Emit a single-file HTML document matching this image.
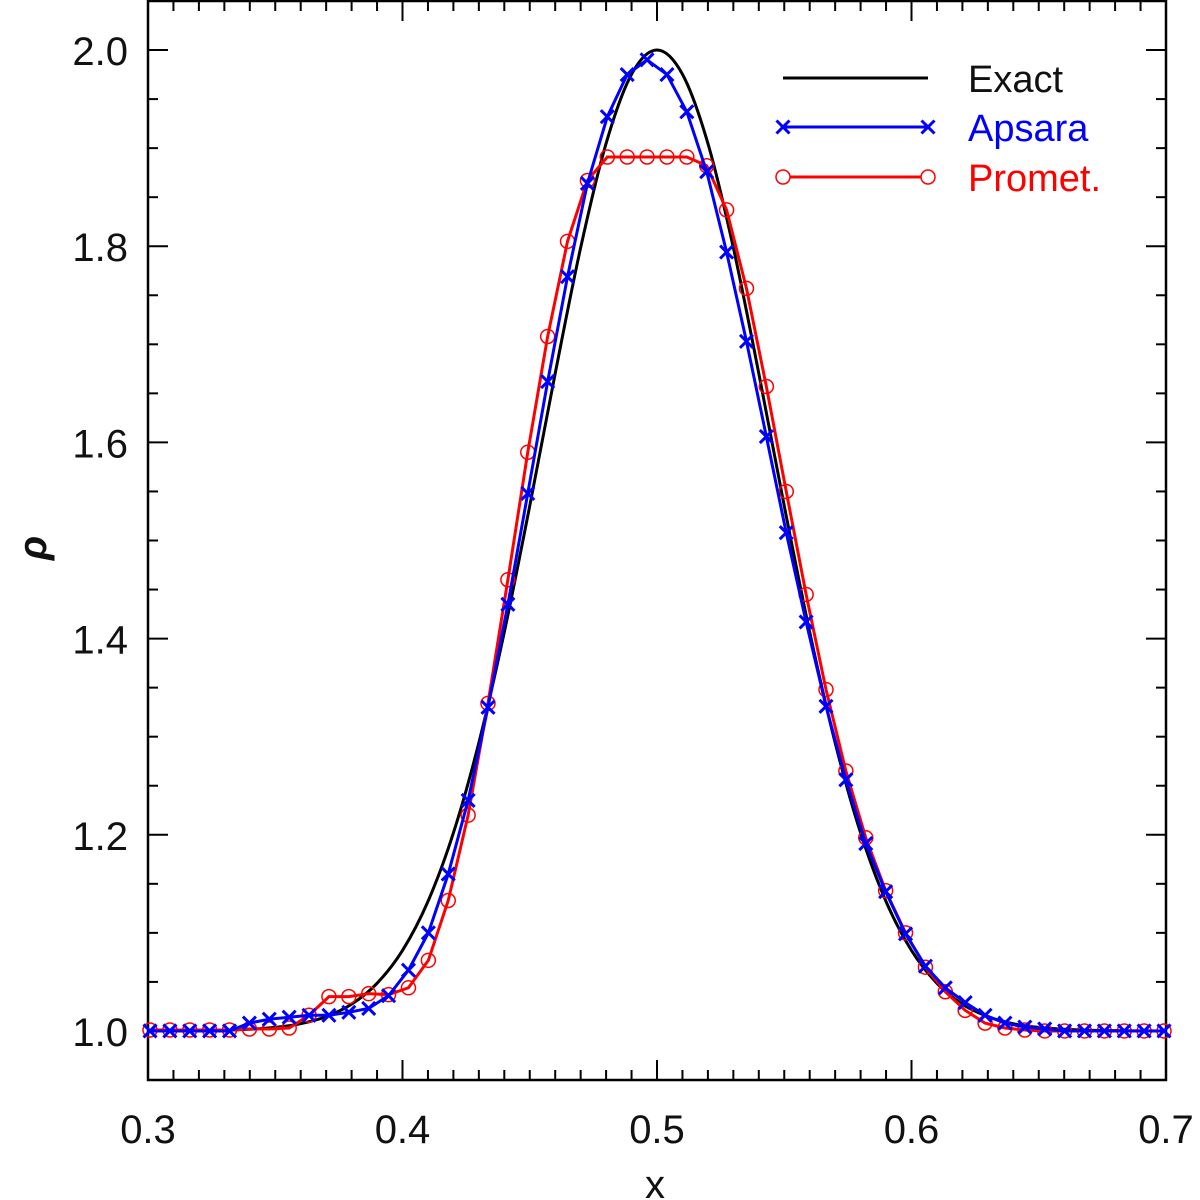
<!DOCTYPE html>
<html><head><meta charset="utf-8"><style>
html,body{margin:0;padding:0;background:#fff;}
svg{display:block;}
text{font-family:"Liberation Sans",sans-serif;}
</style></head><body>
<svg id="chart" width="1200" height="1200" viewBox="0 0 1200 1200" xmlns="http://www.w3.org/2000/svg">
<g id="axes"></g>
<g id="series"></g>
<g id="legend"></g>
</svg>
<script>
const cellX = [];
for (let i = 0; i < 52; i++) cellX.push(0.30078125 + i * 0.0078125);
const apsaraRho = [1.000,1.000,1.000,1.000,1.000,1.008,1.012,1.014,1.016,1.016,1.019,1.023,1.036,1.062,1.100,1.160,1.235,1.330,1.435,1.548,1.662,1.769,1.864,1.932,1.975,1.990,1.975,1.937,1.876,1.794,1.703,1.606,1.508,1.417,1.331,1.256,1.191,1.142,1.099,1.066,1.044,1.029,1.016,1.008,1.004,1.002,1.000,1.000,1.000,1.000,1.000,1.000];
const prometRho = [1.001,1.001,1.001,1.001,1.001,1.002,1.002,1.003,1.016,1.035,1.035,1.038,1.037,1.044,1.072,1.133,1.220,1.334,1.460,1.590,1.708,1.805,1.867,1.891,1.891,1.891,1.891,1.891,1.882,1.837,1.757,1.657,1.550,1.445,1.348,1.265,1.197,1.143,1.100,1.065,1.040,1.021,1.008,1.003,1.001,1.000,1.000,1.000,1.000,1.000,1.000,1.000];
const exactX = [0.30,0.31,0.32,0.33,0.34,0.35,0.36,0.37,0.38,0.39,0.40,0.41,0.42,0.43,0.44,0.45,0.46,0.47,0.48,0.49,0.50,0.51,0.52,0.53,0.54,0.55,0.56,0.57,0.58,0.59,0.60,0.61,0.62,0.63,0.64,0.65,0.66,0.67,0.68,0.69,0.70];
const exactRho = [1.0000,1.0001,1.0003,1.0007,1.0017,1.0036,1.0074,1.0146,1.0273,1.0486,1.0821,1.1320,1.2019,1.2938,1.4066,1.5353,1.6703,1.7985,1.9048,1.9753,2.0000,1.9753,1.9048,1.7985,1.6703,1.5353,1.4066,1.2938,1.2019,1.1320,1.0821,1.0486,1.0273,1.0146,1.0074,1.0036,1.0017,1.0007,1.0003,1.0001,1.0000];
const xTickLabels = ["0.3","0.4","0.5","0.6","0.7"];
const yTickLabels = ["1.0","1.2","1.4","1.6","1.8","2.0"];

const NS = "http://www.w3.org/2000/svg";
const L = 148, R = 1166, T = 1, B = 1080;
const X0 = 0.3, X1 = 0.7, Y0 = 0.95, Y1 = 2.05;
function sx(v){ return L + (v - X0) / (X1 - X0) * (R - L); }
function sy(v){ return B - (v - Y0) / (Y1 - Y0) * (B - T); }
function mk(tag, attrs, parent){
  const e = document.createElementNS(NS, tag);
  for (const k in attrs) e.setAttribute(k, attrs[k]);
  parent.appendChild(e); return e;
}
const axes = document.getElementById('axes');
const series = document.getElementById('series');
const legend = document.getElementById('legend');

const frame = mk('rect', {x:L, y:T, width:R-L, height:B-T, fill:'none', stroke:'#000', 'stroke-width':2.5}, axes);



// x ticks
for (let k = 0; k <= 40; k++) {
  const v = 0.3 + k * 0.01; const px = sx(v);
  const len = (k % 10 === 0) ? 20 : 10;
  const t1 = mk('line', {x1:px, x2:px, y1:B, y2:B-len, stroke:'#000', 'stroke-width':2}, axes);
  
  
  const t2 = mk('line', {x1:px, x2:px, y1:T, y2:T+len, stroke:'#000', 'stroke-width':2}, axes);
  
  
}
xTickLabels.forEach((s, i) => {
  const t = mk('text', {x:sx(parseFloat(s)), y:1143, 'font-size':40, 'text-anchor':'middle', fill:'#111'}, axes);
  t.textContent = s;
  
  
});
// y ticks
for (let k = 0; k <= 22; k++) {
  const v = 0.95 + k * 0.05; const py = sy(v);
  const major = (k % 4 === 1);
  const len = major ? 20 : 10;
  const t1 = mk('line', {x1:L, x2:L+len, y1:py, y2:py, stroke:'#000', 'stroke-width':2}, axes);
  
  
  const t2 = mk('line', {x1:R, x2:R-len, y1:py, y2:py, stroke:'#000', 'stroke-width':2}, axes);
  
  
}
yTickLabels.forEach((s) => {
  const t = mk('text', {x:128, y:sy(parseFloat(s))+15, 'font-size':40, 'text-anchor':'end', fill:'#111'}, axes);
  t.textContent = s;
  
  
});
const xt = mk('text', {x:655, y:1198, 'font-size':40, 'text-anchor':'middle', fill:'#111'}, axes);
xt.textContent = 'x';


const yt = mk('text', {x:46, y:548, 'font-size':40, 'text-anchor':'middle', 'font-style':'italic', 'font-weight':'bold', fill:'#111', transform:'rotate(-90 46 548)'}, axes);
yt.textContent = 'ρ';



// exact curve (Catmull-Rom through sampled values)
function smoothPath(xs, ys){
  const p = xs.map((x,i)=>[sx(x), sy(ys[i])]);
  let d = 'M' + p[0][0] + ',' + p[0][1];
  for (let i = 0; i < p.length-1; i++) {
    const p0 = p[Math.max(0,i-1)], p1 = p[i], p2 = p[i+1], p3 = p[Math.min(p.length-1,i+2)];
    const c1 = [p1[0]+(p2[0]-p0[0])/6, p1[1]+(p2[1]-p0[1])/6];
    const c2 = [p2[0]-(p3[0]-p1[0])/6, p2[1]-(p3[1]-p1[1])/6];
    d += 'C'+c1[0]+','+c1[1]+' '+c2[0]+','+c2[1]+' '+p2[0]+','+p2[1];
  }
  return d;
}
const ex = mk('path', {d:smoothPath(exactX, exactRho), fill:'none', stroke:'#000', 'stroke-width':3}, series);



function linePath(xs, ys){ return xs.map((x,i)=>(i?'L':'M')+sx(x)+','+sy(ys[i])).join(''); }
const rl = mk('path', {d:linePath(cellX, prometRho), fill:'none', stroke:'#f00', 'stroke-width':3}, series);


cellX.forEach((x,i)=>{
  const c = mk('circle', {cx:sx(x), cy:sy(prometRho[i]), r:7, fill:'none', stroke:'#f00', 'stroke-width':1.5}, series);
  
  
});
const bl = mk('path', {d:linePath(cellX, apsaraRho), fill:'none', stroke:'#00f', 'stroke-width':3}, series);


function cross(cx, cy, parent){
  const s = 6.5;
  return mk('path', {d:`M${cx-s},${cy-s}L${cx+s},${cy+s}M${cx-s},${cy+s}L${cx+s},${cy-s}`, stroke:'#00f', 'stroke-width':3, fill:'none'}, parent);
}
cellX.forEach((x,i)=>{
  const c = cross(sx(x), sy(apsaraRho[i]), series);
  
  
});

// legend
const lg1 = mk('line', {x1:783, x2:928, y1:78, y2:78, stroke:'#000', 'stroke-width':3}, legend);


const lt1 = mk('text', {x:968, y:92, 'font-size':38, fill:'#111'}, legend);
lt1.textContent = 'Exact';


const lg2 = mk('line', {x1:783, x2:928, y1:127, y2:127, stroke:'#00f', 'stroke-width':3}, legend);


const m1 = cross(783, 127, legend);


const m2 = cross(928, 127, legend);


const lt2 = mk('text', {x:968, y:141, 'font-size':38, fill:'#00f'}, legend);
lt2.textContent = 'Apsara';


const lg3 = mk('line', {x1:783, x2:928, y1:177, y2:177, stroke:'#f00', 'stroke-width':3}, legend);


[783, 928].forEach(cx=>{
  const c = mk('circle', {cx:cx, cy:177, r:7, fill:'#fff', stroke:'#f00', 'stroke-width':1.5}, legend);
  
  
});
const lt3 = mk('text', {x:968, y:191, 'font-size':38, fill:'#f00'}, legend);
lt3.textContent = 'Promet.';


</script>
</body></html>
